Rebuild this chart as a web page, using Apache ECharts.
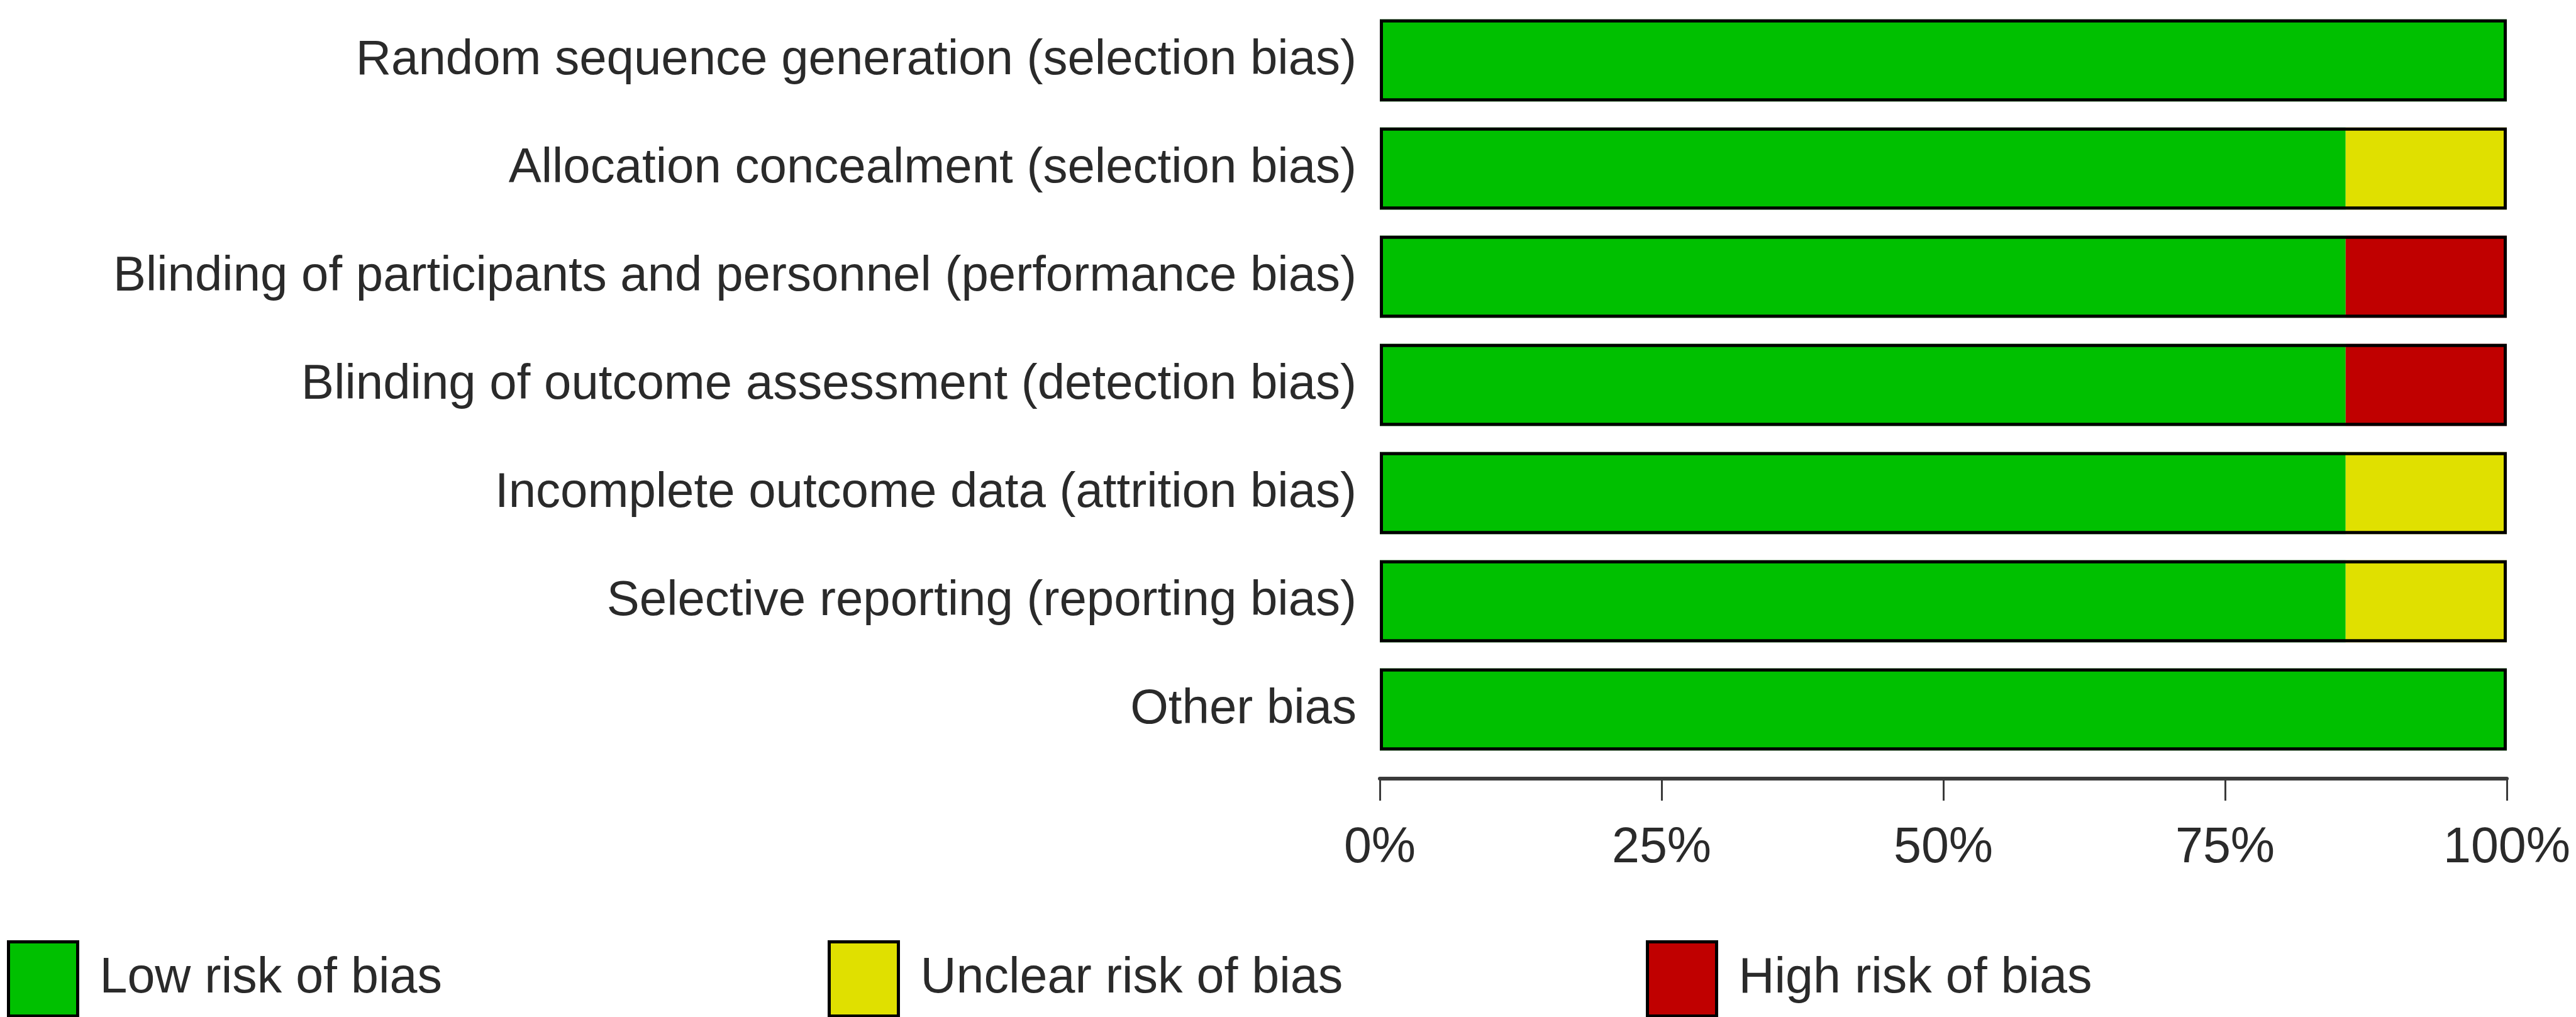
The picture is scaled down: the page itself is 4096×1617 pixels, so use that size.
<!DOCTYPE html>
<html>
<head>
    <meta charset="utf-8"/>
    <title>Risk of bias graph</title>
    <style>
        html, body { margin: 0; padding: 0; background: #fff; }
        #container { width: 4096px; height: 1617px; }
    </style>
</head>
<body>
<div id="container"></div>
<script type="text/javascript" src="https://cdn.jsdelivr.net/npm/echarts@6/dist/echarts.min.js"></script>
<script type="text/javascript">
    // domains, top to bottom
    var categories = [
        'Random sequence generation (selection bias)',
        'Allocation concealment (selection bias)',
        'Blinding of participants and personnel (performance bias)',
        'Blinding of outcome assessment (detection bias)',
        'Incomplete outcome data (attrition bias)',
        'Selective reporting (reporting bias)',
        'Other bias'
    ];
    // percent of studies
    var lowRisk     = [100, 85.7, 85.7, 85.7, 85.7, 85.7, 100];
    var unclearRisk = [0, 14.3, 0, 0, 14.3, 14.3, 0];
    var highRisk    = [0, 0, 14.3, 14.3, 0, 0, 0];
    var tickLabels  = ['0%', '25%', '50%', '75%', '100%'];

    var totals = [];
    for (var i = 0; i < categories.length; i++) {
        totals.push(lowRisk[i] + unclearRisk[i] + highRisk[i]);
    }

    var font = 'Liberation Sans';
    var textColor = '#2a2a2a';

    function legendAt(left, name) {
        return {
            data: [name],
            left: left,
            top: 1490,
            orient: 'horizontal',
            icon: 'rect',
            itemWidth: 110,
            itemHeight: 118,
            itemStyle: { borderColor: '#000', borderWidth: 5 },
            textStyle: { fontFamily: font, fontSize: 79, color: textColor, padding: [0, 0, 0, 30] },
            selectedMode: false
        };
    }

    var dom = document.getElementById('container');
    var myChart = echarts.init(dom, null, { renderer: 'canvas' });
    var option = {
        animation: false,
        backgroundColor: '#fff',
        grid: { left: 2194, right: 110, top: 10, height: 1204 },
        legend: [
            legendAt(6, 'Low risk of bias'),
            legendAt(1311, 'Unclear risk of bias'),
            legendAt(2612, 'High risk of bias')
        ],
        xAxis: {
            type: 'value',
            min: 0,
            max: 100,
            interval: 25,
            offset: 24,
            axisLine: { show: true, lineStyle: { color: '#3a3a3a', width: 6 } },
            axisTick: { show: true, length: 35, lineStyle: { color: '#3a3a3a', width: 3 } },
            splitLine: { show: false },
            axisLabel: {
                margin: 72,
                fontFamily: font,
                fontSize: 79,
                color: textColor,
                formatter: function (v) { return tickLabels[v / 25]; }
            }
        },
        yAxis: {
            type: 'category',
            data: categories,
            inverse: true,
            axisLine: { show: false },
            axisTick: { show: false },
            axisLabel: { margin: 37, fontFamily: font, fontSize: 78, color: textColor }
        },
        series: [
            {
                name: 'Low risk of bias', type: 'bar', stack: 'risk', data: lowRisk,
                barCategoryGap: '24%', barGap: '-100%',
                itemStyle: { color: '#00c000' }
            },
            {
                name: 'Unclear risk of bias', type: 'bar', stack: 'risk', data: unclearRisk,
                barCategoryGap: '24%', barGap: '-100%',
                itemStyle: { color: '#e0e000' }
            },
            {
                name: 'High risk of bias', type: 'bar', stack: 'risk', data: highRisk,
                barCategoryGap: '24%', barGap: '-100%',
                itemStyle: { color: '#c00000' }
            },
            {
                // black outline round each whole bar
                name: 'outline', type: 'bar', data: totals,
                barCategoryGap: '24%', barGap: '-100%', silent: true, z: 5,
                itemStyle: { color: 'rgba(0,0,0,0)', borderColor: '#000', borderWidth: 5 }
            }
        ]
    };
    myChart.setOption(option, true);
</script>
</body>
</html>
